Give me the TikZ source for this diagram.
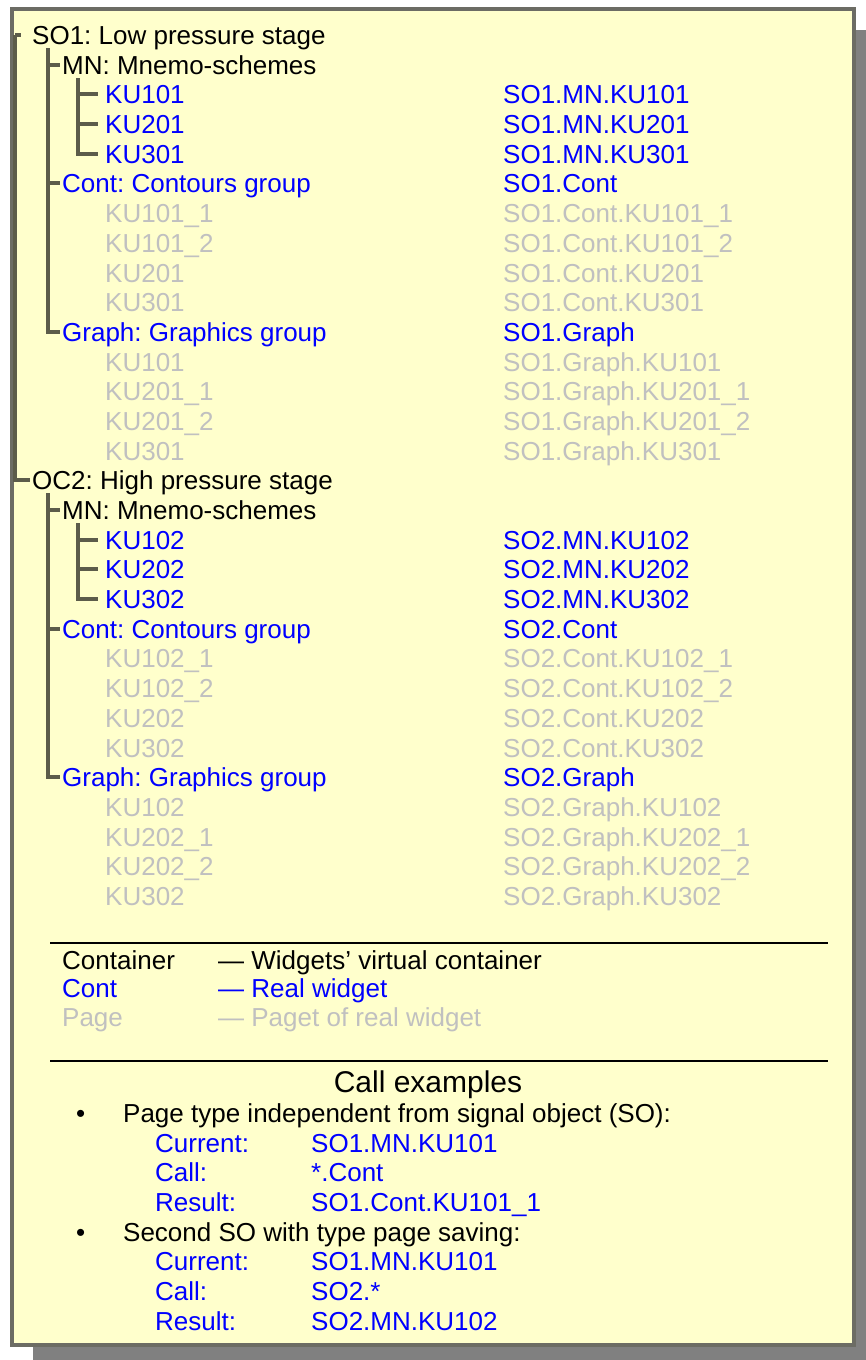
\documentclass[tikz,border=0pt]{standalone}
\usepackage{fontspec}
\setmainfont{Liberation Sans}
\definecolor{paperyellow}{RGB}{255,255,204}
\definecolor{framegray}{RGB}{108,108,100}
\definecolor{shadowgray}{RGB}{128,128,128}
\definecolor{treeline}{RGB}{92,92,74}
\definecolor{widgetblue}{RGB}{0,0,255}
\definecolor{pagegray}{RGB}{192,192,192}
\usepackage{tikz}
\frenchspacing

\begin{document}
\begin{tikzpicture}[
  x=1pt, y=-1pt,
  txt/.style={anchor=base west, inner sep=0pt, text height=18pt, text depth=0pt, font=\fontsize{26}{30}\selectfont},
  cont/.style={txt, text=widgetblue},
  page/.style={txt, text=pagegray},
  branch/.style={draw=treeline, line width=3.2pt},
  rule/.style={draw=black, line width=1.8pt}
]
  \useasboundingbox (0,0) rectangle (866,1360);
  \fill[shadowgray] (33,30) rectangle (866,1360);
  \draw[framegray, line width=3.2pt, fill=paperyellow] (12,9) rectangle (854,1345);

  % first stage
  \node[txt]  (so1)     at (32,44)   {SO1: Low pressure stage};
  \node[txt]  (mn1)     at (62,74)   {MN: Mnemo-schemes};
  \node[cont] (ku101)   at (105,103) {KU101};
  \node[cont] (ku201)   at (105,133) {KU201};
  \node[cont] (ku301)   at (105,163) {KU301};
  \node[cont] (cont1)   at (62,192)  {Cont: Contours group};
  \node[page] (ku101c1) at (105,222) {KU101\_1};
  \node[page] (ku101c2) at (105,252) {KU101\_2};
  \node[page] (ku201c)  at (105,282) {KU201};
  \node[page] (ku301c)  at (105,311) {KU301};
  \node[cont] (graph1)  at (62,341)  {Graph: Graphics group};
  \node[page] (ku101g)  at (105,371) {KU101};
  \node[page] (ku201g1) at (105,400) {KU201\_1};
  \node[page] (ku201g2) at (105,430) {KU201\_2};
  \node[page] (ku301g)  at (105,460) {KU301};

  \node[cont] (so1mnku101)    at (503,103) {SO1.MN.KU101};
  \node[cont] (so1mnku201)    at (503,133) {SO1.MN.KU201};
  \node[cont] (so1mnku301)    at (503,163) {SO1.MN.KU301};
  \node[cont] (so1cont)       at (503,192) {SO1.Cont};
  \node[page] (so1contku101a) at (503,222) {SO1.Cont.KU101\_1};
  \node[page] (so1contku101b) at (503,252) {SO1.Cont.KU101\_2};
  \node[page] (so1contku201)  at (503,282) {SO1.Cont.KU201};
  \node[page] (so1contku301)  at (503,311) {SO1.Cont.KU301};
  \node[cont] (so1graph)      at (503,341) {SO1.Graph};
  \node[page] (so1graphku101) at (503,371) {SO1.Graph.KU101};
  \node[page] (so1graphku201a) at (503,400) {SO1.Graph.KU201\_1};
  \node[page] (so1graphku201b) at (503,430) {SO1.Graph.KU201\_2};
  \node[page] (so1graphku301) at (503,460) {SO1.Graph.KU301};

  % second stage
  \node[txt]  (oc2)     at (32,489)  {OC2: High pressure stage};
  \node[txt]  (mn2)     at (62,519)  {MN: Mnemo-schemes};
  \node[cont] (ku102)   at (105,549) {KU102};
  \node[cont] (ku202)   at (105,578) {KU202};
  \node[cont] (ku302)   at (105,608) {KU302};
  \node[cont] (cont2)   at (62,638)  {Cont: Contours group};
  \node[page] (ku102c1) at (105,667) {KU102\_1};
  \node[page] (ku102c2) at (105,697) {KU102\_2};
  \node[page] (ku202c)  at (105,727) {KU202};
  \node[page] (ku302c)  at (105,757) {KU302};
  \node[cont] (graph2)  at (62,786)  {Graph: Graphics group};
  \node[page] (ku102g)  at (105,816) {KU102};
  \node[page] (ku202g1) at (105,846) {KU202\_1};
  \node[page] (ku202g2) at (105,875) {KU202\_2};
  \node[page] (ku302g)  at (105,905) {KU302};

  \node[cont] (so2mnku102)    at (503,549) {SO2.MN.KU102};
  \node[cont] (so2mnku202)    at (503,578) {SO2.MN.KU202};
  \node[cont] (so2mnku302)    at (503,608) {SO2.MN.KU302};
  \node[cont] (so2cont)       at (503,638) {SO2.Cont};
  \node[page] (so2contku102a) at (503,667) {SO2.Cont.KU102\_1};
  \node[page] (so2contku102b) at (503,697) {SO2.Cont.KU102\_2};
  \node[page] (so2contku202)  at (503,727) {SO2.Cont.KU202};
  \node[page] (so2contku302)  at (503,757) {SO2.Cont.KU302};
  \node[cont] (so2graph)      at (503,786) {SO2.Graph};
  \node[page] (so2graphku102) at (503,816) {SO2.Graph.KU102};
  \node[page] (so2graphku202a) at (503,846) {SO2.Graph.KU202\_1};
  \node[page] (so2graphku202b) at (503,875) {SO2.Graph.KU202\_2};
  \node[page] (so2graphku302) at (503,905) {SO2.Graph.KU302};

  % tree branches
  \coordinate (roottrunk) at (15,35);
  \coordinate (so1trunk) at (48,48);
  \coordinate (mn1trunk) at (78,78);
  \coordinate (oc2trunk) at (48,493);
  \coordinate (mn2trunk) at (78,523);
  \draw[branch] (roottrunk) -- ([xshift=-11pt]so1.west)
                (roottrunk) |- ([xshift=-2pt]oc2.west);
  \draw[branch] (so1trunk) |- ([xshift=-2pt]mn1.west)
                (so1trunk) |- ([xshift=-2pt]cont1.west)
                (so1trunk) |- ([xshift=-2pt]graph1.west);
  \draw[branch] (mn1trunk) |- ([xshift=-7pt]ku101.west)
                (mn1trunk) |- ([xshift=-7pt]ku201.west)
                (mn1trunk) |- ([xshift=-7pt]ku301.west);
  \draw[branch] (oc2trunk) |- ([xshift=-2pt]mn2.west)
                (oc2trunk) |- ([xshift=-2pt]cont2.west)
                (oc2trunk) |- ([xshift=-2pt]graph2.west);
  \draw[branch] (mn2trunk) |- ([xshift=-7pt]ku102.west)
                (mn2trunk) |- ([xshift=-7pt]ku202.west)
                (mn2trunk) |- ([xshift=-7pt]ku302.west);

  % legend
  \draw[rule] (50,943) -- (828,943);
  \node[txt]  (lgcontainer) at (62,969)  {Container};
  \node[txt]  (lgcontainerx) at (218,969) {— Widgets' virtual container};
  \node[cont] (lgcont)      at (62,997)  {Cont};
  \node[cont] (lgcontx)     at (218,997) {— Real widget};
  \node[page] (lgpage)      at (62,1026) {Page};
  \node[page] (lgpagex)     at (218,1026) {— Paget of real widget};
  \draw[rule] (50,1061) -- (828,1061);

  % call examples
  \node[txt, anchor=base, font=\fontsize{30}{34}\selectfont] (calltitle) at (428,1092) {Call examples};
  \node[txt]  (bullet1) at (76,1122)  {•};
  \node[txt]  (case1)   at (123,1122) {Page type independent from signal object (SO):};
  \node[cont] (cur1)    at (155,1152) {Current:};
  \node[cont] (cur1v)   at (311,1152) {SO1.MN.KU101};
  \node[cont] (call1)   at (155,1181) {Call:};
  \node[cont] (call1v)  at (311,1181) {*.Cont};
  \node[cont] (res1)    at (155,1211) {Result:};
  \node[cont] (res1v)   at (311,1211) {SO1.Cont.KU101\_1};
  \node[txt]  (bullet2) at (76,1241)  {•};
  \node[txt]  (case2)   at (123,1241) {Second SO with type page saving:};
  \node[cont] (cur2)    at (155,1270) {Current:};
  \node[cont] (cur2v)   at (311,1270) {SO1.MN.KU101};
  \node[cont] (call2)   at (155,1300) {Call:};
  \node[cont] (call2v)  at (311,1300) {SO2.*};
  \node[cont] (res2)    at (155,1330) {Result:};
  \node[cont] (res2v)   at (311,1330) {SO2.MN.KU102};
\end{tikzpicture}
\end{document}
